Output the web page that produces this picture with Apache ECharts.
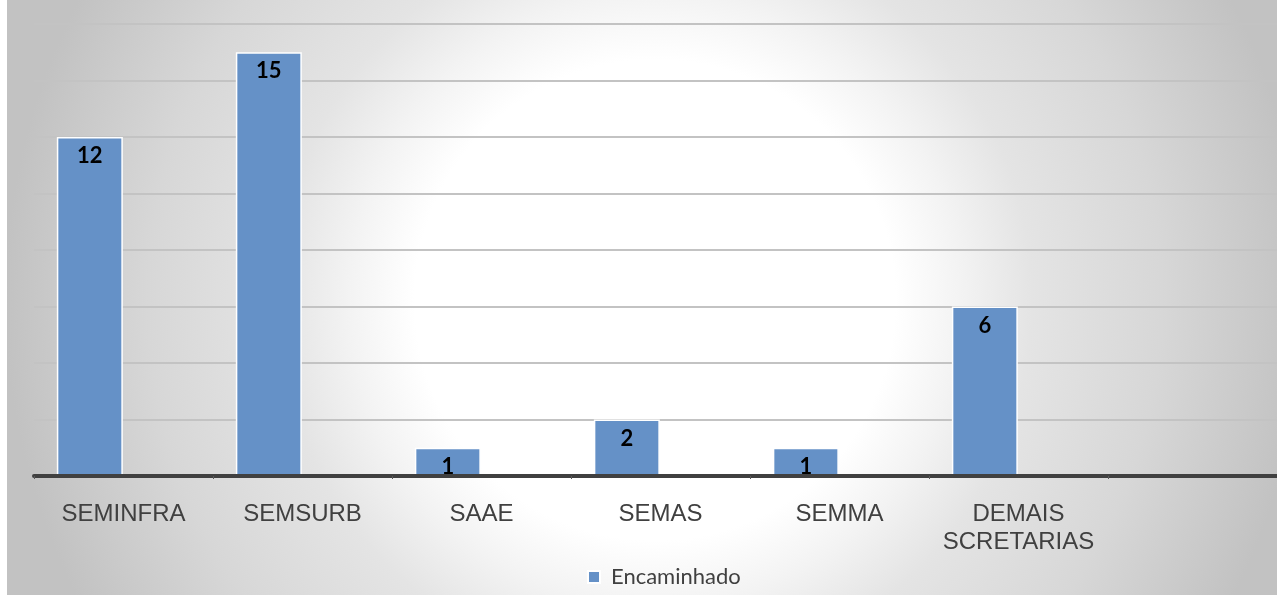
<!DOCTYPE html>
<html><head><meta charset="utf-8">
<script src="https://cdn.jsdelivr.net/npm/echarts@6/dist/echarts.min.js"></script>
<style>html,body{margin:0;padding:0;background:#fff;overflow:hidden}#c{position:absolute;left:7px;top:0;width:1270px;height:595px}</style>
</head><body><div id="c"></div>
<script>
const categories = ['SEMINFRA', 'SEMSURB', 'SAAE', 'SEMAS', 'SEMMA', 'DEMAIS\nSCRETARIAS', ''];
const encaminhado = [12, 15, 1, 2, 1, 6, null];
const placeholder = [null, null, null, null, null, null, null];
const yMin = 0, yMax = 16, yInterval = 2;

const chart = echarts.init(document.getElementById('c'), null, {renderer: 'canvas'});
chart.setOption({
  animation: false,
  backgroundColor: {
    type: 'radial', x: 648 / 1270, y: 300 / 595, r: 650 / 595,
    colorStops: [
      {offset: 0, color: '#ffffff'},
      {offset: 0.37, color: '#ffffff'},
      {offset: 0.47, color: '#f3f3f3'},
      {offset: 0.58, color: '#e4e4e4'},
      {offset: 0.78, color: '#d7d7d7'},
      {offset: 1, color: '#c2c2c2'}
    ]
  },
  grid: {left: 27, top: 24, width: 1253, height: 452, containLabel: false, outerBoundsMode: 'none'},
  legend: {
    data: ['Encaminhado'], left: 580, top: 565, icon: 'rect', padding: 0,
    itemWidth: 12, itemHeight: 12, itemGap: 10,
    textStyle: {fontFamily: 'Lato', fontSize: 22, color: '#404040', lineHeight: 24, padding: [0, 0, 0, 6]}
  },
  xAxis: {
    type: 'category', data: categories, z: 5,
    axisLine: {show: true, lineStyle: {color: '#404040', width: 4}},
    axisTick: {show: true, alignWithLabel: false, length: 3, lineStyle: {color: '#5a5a5a', width: 1}},
    axisLabel: {interval: 0, margin: 24, color: '#404040', fontFamily: 'Liberation Sans', fontSize: 24, lineHeight: 28},
    splitLine: {show: false}
  },
  yAxis: {
    type: 'value', min: yMin, max: yMax, interval: yInterval,
    axisLine: {show: false}, axisTick: {show: false}, axisLabel: {show: false},
    splitLine: {show: true, lineStyle: {color: '#c3c3c3', width: 1.8}}
  },
  series: [
    {
      name: 'Encaminhado', type: 'bar', data: encaminhado, barWidth: 66, barGap: '2%',
      itemStyle: {color: '#6591c7', borderColor: '#ffffff', borderWidth: 1.5},
      label: {show: true, position: 'insideTop', distance: 8, fontFamily: 'Lato', fontWeight: 'bold', fontSize: 22, color: '#000000'}
    },
    {
      name: 'Vazio', type: 'bar', data: placeholder, barWidth: 66,
      itemStyle: {color: 'transparent'}
    }
  ]
});
</script></body></html>
